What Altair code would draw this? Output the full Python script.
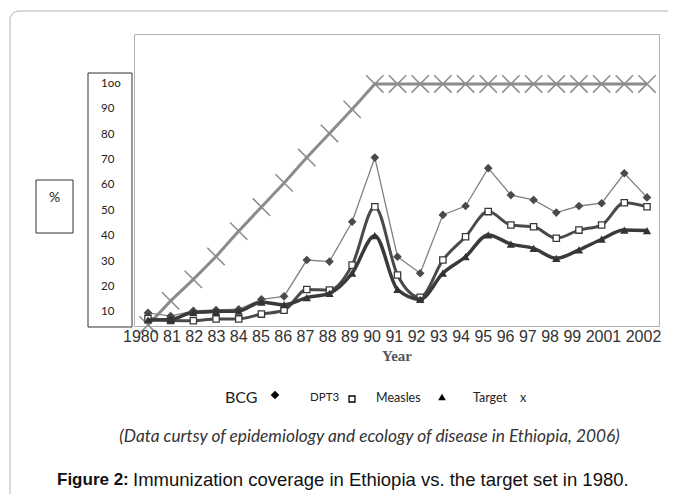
import altair as alt
import pandas as pd

# ---- data ----
years = list(range(1980, 2003))
bcg = [9.8, 8.5, 10.6, 10.9, 11.2, 15.1, 16.3, 30.6, 30.0, 45.7, 71.0, 31.9,
       25.4, 48.4, 51.9, 66.8, 56.2, 54.3, 49.3, 51.9, 53.0, 64.8, 55.3]
dpt3 = [7.6, 6.8, 6.7, 7.4, 7.4, 9.3, 10.8, 19.0, 18.8, 28.6, 51.6, 24.7,
        15.9, 30.6, 39.8, 49.7, 44.4, 43.7, 39.2, 42.4, 44.4, 53.2, 51.6]
measles = [7.0, 7.2, 10.0, 10.3, 10.5, 14.0, 13.0, 15.8, 17.5, 25.4, 40.2, 19.0,
           15.1, 25.4, 31.9, 40.5, 36.9, 35.2, 31.3, 34.6, 38.8, 42.4, 42.2]
target = [5.0, 14.5, 23.0, 32.0, 42.0, 51.5, 61.0, 71.0, 80.5, 90.0, 100.0, 100.0,
          100.0, 100.0, 100.0, 100.0, 100.0, 100.0, 100.0, 100.0, 100.0, 100.0, 100.0]

x_tick_labels = ["1980", "81", "82", "83", "84", "85", "86", "87", "88", "89", "90",
                 "91", "92", "93", "94", "95", "96", "97", "98", "99", "2001", "2002"]
y_tick_values = [10, 20, 30, 40, 50, 60, 70, 80, 90, 100]
y_tick_labels = ["10", "20", "30", "40", "50", "60", "70", "80", "90", "1oo"]

legend_names = ["BCG", "DPT3", "Measles", "Target"]
source_text = "(Data curtsy of epidemiology and ecology of disease in Ethiopia, 2006)"
caption_bold = "Figure 2:"
caption_rest = "Immunization coverage in Ethiopia vs. the target set in 1980."

W, H = 525, 292
xs = alt.Scale(domain=[1979.383, 2002.529], nice=False, zero=False)
ys = alt.Scale(domain=[4.6, 119.7], nice=False, zero=False)
one = pd.DataFrame({"k": [0]})


def sdf(vals):
    return pd.DataFrame({"year": years, "value": vals})


def enc(ch):
    return ch.encode(x=alt.X("year:Q", scale=xs, axis=None),
                     y=alt.Y("value:Q", scale=ys, axis=None))


def txt(s, x, y, size, font="Lato", align="left", weight="normal", style="normal", color="#333"):
    return alt.Chart(one).mark_text(align=align, baseline="middle", font=font, fontSize=size,
                                    fontWeight=weight, fontStyle=style, color=color).encode(
        x=alt.value(x), y=alt.value(y), text=alt.value(s))


def box(x, x2, y, y2, color="#333", radius=0):
    return alt.Chart(one).mark_rect(filled=False, stroke=color, strokeWidth=1,
                                    cornerRadius=radius).encode(
        x=alt.value(x), x2=alt.value(x2), y=alt.value(y), y2=alt.value(y2))


XPATH = "M-1,-1L1,1M-1,1L1,-1"

layers = [
    box(-124, 800, -23, 700, color="#b0b0b0", radius=9),
    box(-46, -2, 39, 293),
    box(-98, -61, 146, 199),
    txt("%", -79.5, 164, 14, align="center", color="#222"),
    alt.Chart(pd.DataFrame({"v": y_tick_values, "lab": y_tick_labels})).mark_text(
        align="left", baseline="middle", font="Lato", fontSize=11.5, color="#222").encode(
        x=alt.value(-33), y=alt.Y("v:Q", scale=ys, axis=None), text="lab:N"),
    # target
    enc(alt.Chart(sdf(target)).mark_line(color="#8c8c8c", strokeWidth=3)),
    enc(alt.Chart(sdf(target)).mark_point(shape=XPATH, filled=False, stroke="#8c8c8c",
                                          strokeWidth=1.5, size=300, opacity=1)),
    # BCG
    enc(alt.Chart(sdf(bcg)).mark_line(color="#808080", strokeWidth=1.3)),
    enc(alt.Chart(sdf(bcg)).mark_point(shape="diamond", filled=True, color="#4a4a4a",
                                       size=75, opacity=1)),
    # DPT3
    enc(alt.Chart(sdf(dpt3)).mark_line(color="#4a4a4a", strokeWidth=3, interpolate="monotone")),
    enc(alt.Chart(sdf(dpt3)).mark_point(shape="square", filled=True, fill="white",
                                        stroke="#3a3a3a", strokeWidth=1.3, size=40, opacity=1)),
    # Measles
    enc(alt.Chart(sdf(measles)).mark_line(color="#3a3a3a", strokeWidth=3.5, interpolate="monotone")),
    enc(alt.Chart(sdf(measles)).mark_point(shape="triangle-up", filled=True, color="#333",
                                           size=70, opacity=1)),
    # x tick label row and axis title
    txt(" ".join(x_tick_labels), -11, 303, 16, font="Liberation Sans", color="#333"),
    txt("Year", 263, 322, 15, font="Liberation Serif", align="center", weight="bold", color="#555"),
    # legend
    txt(legend_names[0], 91, 364, 16, color="#222"),
    alt.Chart(one).mark_point(shape="diamond", filled=True, color="#000", size=75, opacity=1).encode(
        x=alt.value(141), y=alt.value(361)),
    txt(legend_names[1], 176, 364, 11.5, color="#222"),
    alt.Chart(one).mark_point(shape="square", filled=False, stroke="#000", strokeWidth=1.3,
                              size=36, opacity=1).encode(x=alt.value(218), y=alt.value(365)),
    txt(legend_names[2], 242, 364, 12.5, color="#222"),
    alt.Chart(one).mark_point(shape="triangle-up", filled=True, color="#000", size=60, opacity=1).encode(
        x=alt.value(308), y=alt.value(363)),
    txt(legend_names[3], 339, 364, 12.5, color="#222"),
    txt("x", 386, 364, 12.5, color="#222"),
    # source and caption
    txt(source_text, 235.5, 403, 17.3, align="center", style="italic", color="#333"),
    txt(caption_bold, -77, 446, 17, font="Liberation Sans", weight="bold", color="#111"),
    txt(caption_rest, -1, 446, 18.5, font="Liberation Sans", color="#111"),
]

chart = alt.layer(*layers).properties(
    width=W, height=H,
    autosize=alt.AutoSizeParams(type="none"),
    padding={"left": 126, "top": 26, "right": 9, "bottom": 168},
    background="white",
).configure_view(stroke="#b0b0b0", strokeWidth=1)

chart.save("out.html", embed_options={"renderer": "svg", "actions": False})
